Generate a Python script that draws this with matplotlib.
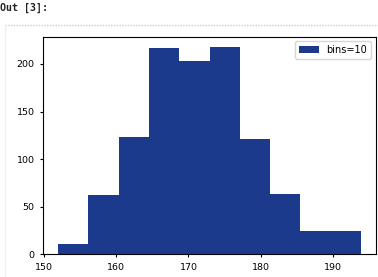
import numpy as np
import matplotlib
matplotlib.use('Agg')
import matplotlib.pyplot as plt

# histogram (bins=10)
bin_edges = np.linspace(152.0, 193.8, 11)
counts = [11, 62, 123, 217, 203, 218, 121, 63, 25, 25]
x_ticks = [150, 160, 170, 180, 190]
y_ticks = [0, 50, 100, 150, 200]
bar_color = '#1b3a8c'

plt.rcParams['font.size'] = 6.8
plt.rcParams['xtick.major.size'] = 2.5
plt.rcParams['ytick.major.size'] = 2.5

fig = plt.figure(figsize=(3.78, 2.77), dpi=100)
ax = fig.add_axes([43 / 378, 1 - 254.3 / 277, 333 / 378, 217.8 / 277])

centers = (bin_edges[:-1] + bin_edges[1:]) / 2
ax.hist(centers, bins=bin_edges, weights=counts, color=bar_color, label='bins=10')
ax.set_xticks(x_ticks)
ax.set_yticks(y_ticks)
ax.legend(loc='upper right', fontsize=7)

# notebook output prompt and cell border
fig.text(0.0, 1 - 8 / 277, 'Out [3]:', family='DejaVu Sans Mono', weight='bold',
         fontsize=7.2, va='center', ha='left', color='#222222')
fig.add_artist(plt.Line2D([5 / 378, 1], [1 - 25 / 277] * 2, transform=fig.transFigure,
                          color='#cccccc', lw=1, ls=(0, (1, 1))))
fig.add_artist(plt.Line2D([5 / 378] * 2, [0, 1 - 25 / 277], transform=fig.transFigure,
                          color='#eeeeee', lw=1))

fig.savefig('out.png', dpi=100)
